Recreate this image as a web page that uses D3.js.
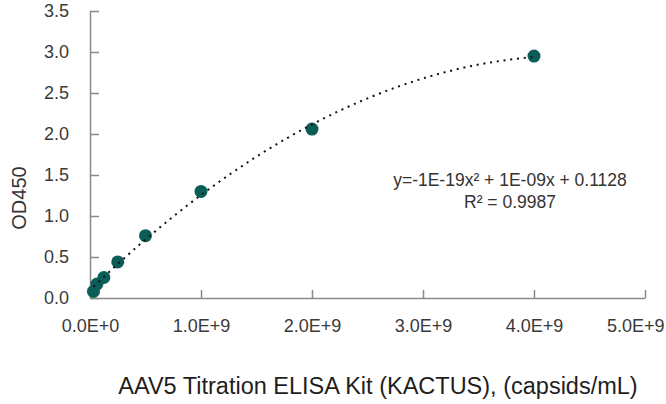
<!DOCTYPE html>
<html>
<head>
<meta charset="utf-8">
<script src="https://cdn.jsdelivr.net/npm/d3@7"></script>
<style>
  body { margin: 0; background: #fff; }
  text { font-family: "Liberation Sans", Arial, sans-serif; }
</style>
</head>
<body>
<div id="chart"></div>
<script>
// capsid concentration (capsids/mL) and measured OD450
const concentrations = [3.125e7, 6.25e7, 1.25e8, 2.5e8, 5e8, 1e9, 2e9, 4e9];
const od450 = [0.08, 0.17, 0.25, 0.44, 0.76, 1.30, 2.06, 2.95];
const xTicks = [0, 1e9, 2e9, 3e9, 4e9, 5e9];
const yTicks = [0, 0.5, 1.0, 1.5, 2.0, 2.5, 3.0, 3.5];
const equationLines = ['y=-1E-19x\u00B2 + 1E-09x + 0.1128', 'R\u00B2 = 0.9987'];
const xTitle = 'AAV5 Titration ELISA Kit (KACTUS), (capsids/mL)';
const yTitle = 'OD450';

const width = 666, height = 404;
const data = concentrations.map((c, i) => ({ x: c, y: od450[i] }));

const x = d3.scaleLinear().domain([0, 5e9]).range([90, 645]);
const y = d3.scaleLinear().domain([0, 3.5]).range([298, 11]);

const svg = d3.select('#chart')
    .append('svg')
    .attr('width', width)
    .attr('height', height);

// axes, ticks pointing inward
const xAxis = svg.append('g')
    .attr('transform', `translate(0, ${y(0)})`)
    .call(d3.axisBottom(x)
        .tickValues(xTicks)
        .tickSize(-8)
        .tickPadding(21)
        .tickSizeOuter(0)
        .tickFormat(d => d3.format('.1e')(d).toUpperCase()));

const yAxis = svg.append('g')
    .attr('transform', `translate(${x(0)}, 0)`)
    .call(d3.axisLeft(y)
        .tickValues(yTicks)
        .tickSize(-9)
        .tickPadding(21)
        .tickSizeOuter(0)
        .tickFormat(d3.format('.1f')));

[xAxis, yAxis].forEach(g => {
    g.select('.domain').attr('stroke', '#8a8a8a').attr('stroke-width', 1.5);
    g.selectAll('.tick line').attr('stroke', '#8a8a8a').attr('stroke-width', 1.5);
    g.selectAll('.tick text')
        .attr('fill', '#3a3a3a')
        .style('font-size', '18px')
        .style('font-family', '"Liberation Sans", Arial, sans-serif');
});

// last x label is pulled inside the frame, like the original
xAxis.selectAll('.tick')
    .filter(d => d === d3.max(xTicks))
    .select('text')
    .attr('text-anchor', 'end')
    .attr('x', width - 2 - x(d3.max(xTicks)));

// points
svg.append('g')
    .selectAll('circle')
    .data(data)
    .enter()
    .append('circle')
    .attr('cx', d => x(d.x))
    .attr('cy', d => y(d.y))
    .attr('r', 6.5)
    .attr('fill', '#0b5e57');

// least squares quadratic fit (x scaled by 1e9)
function quadFit(pts) {
    const s = [0, 0, 0, 0, 0], t = [0, 0, 0];
    pts.forEach(p => {
        const u = p.x / 1e9;
        for (let k = 0; k < 5; k++) s[k] += Math.pow(u, k);
        for (let k = 0; k < 3; k++) t[k] += p.y * Math.pow(u, k);
    });
    const m = [[s[0], s[1], s[2], t[0]], [s[1], s[2], s[3], t[1]], [s[2], s[3], s[4], t[2]]];
    for (let i = 0; i < 3; i++) {
        for (let j = i + 1; j < 3; j++) {
            const f = m[j][i] / m[i][i];
            for (let k = i; k < 4; k++) m[j][k] -= f * m[i][k];
        }
    }
    const c = [0, 0, 0];
    for (let i = 2; i >= 0; i--) {
        let v = m[i][3];
        for (let k = i + 1; k < 3; k++) v -= m[i][k] * c[k];
        c[i] = v / m[i][i];
    }
    return c;
}

const [a, b, c] = quadFit(data);
const f = u => a + b * u + c * u * u;
const df = u => b + 2 * c * u;

// trendline as an exact quadratic bezier across the data range
const u0 = d3.min(concentrations) / 1e9, u1 = d3.max(concentrations) / 1e9;
const trend = d3.path();
trend.moveTo(x(u0 * 1e9), y(f(u0)));
trend.quadraticCurveTo(
    x((u0 + u1) / 2 * 1e9), y(f(u0) + df(u0) * (u1 - u0) / 2),
    x(u1 * 1e9), y(f(u1)));

svg.append('path')
    .attr('d', trend.toString())
    .attr('fill', 'none')
    .attr('stroke', '#111')
    .attr('stroke-width', 2)
    .attr('stroke-dasharray', '2 4.8');

// equation label
svg.append('text')
    .attr('x', 510)
    .attr('y', 186)
    .attr('text-anchor', 'middle')
    .attr('fill', '#333')
    .style('font-size', '17.5px')
    .selectAll('tspan')
    .data(equationLines)
    .enter()
    .append('tspan')
    .attr('x', 510)
    .attr('dy', (d, i) => i === 0 ? 0 : 22)
    .text(d => d);

// axis titles
svg.append('text')
    .attr('x', 378)
    .attr('y', 394)
    .attr('text-anchor', 'middle')
    .attr('fill', '#1e1e1e')
    .style('font-size', '23.5px')
    .text(xTitle);

svg.append('text')
    .attr('transform', 'translate(26, 198) rotate(-90)')
    .attr('text-anchor', 'middle')
    .attr('fill', '#333')
    .style('font-size', '20px')
    .text(yTitle);
</script>
</body>
</html>
